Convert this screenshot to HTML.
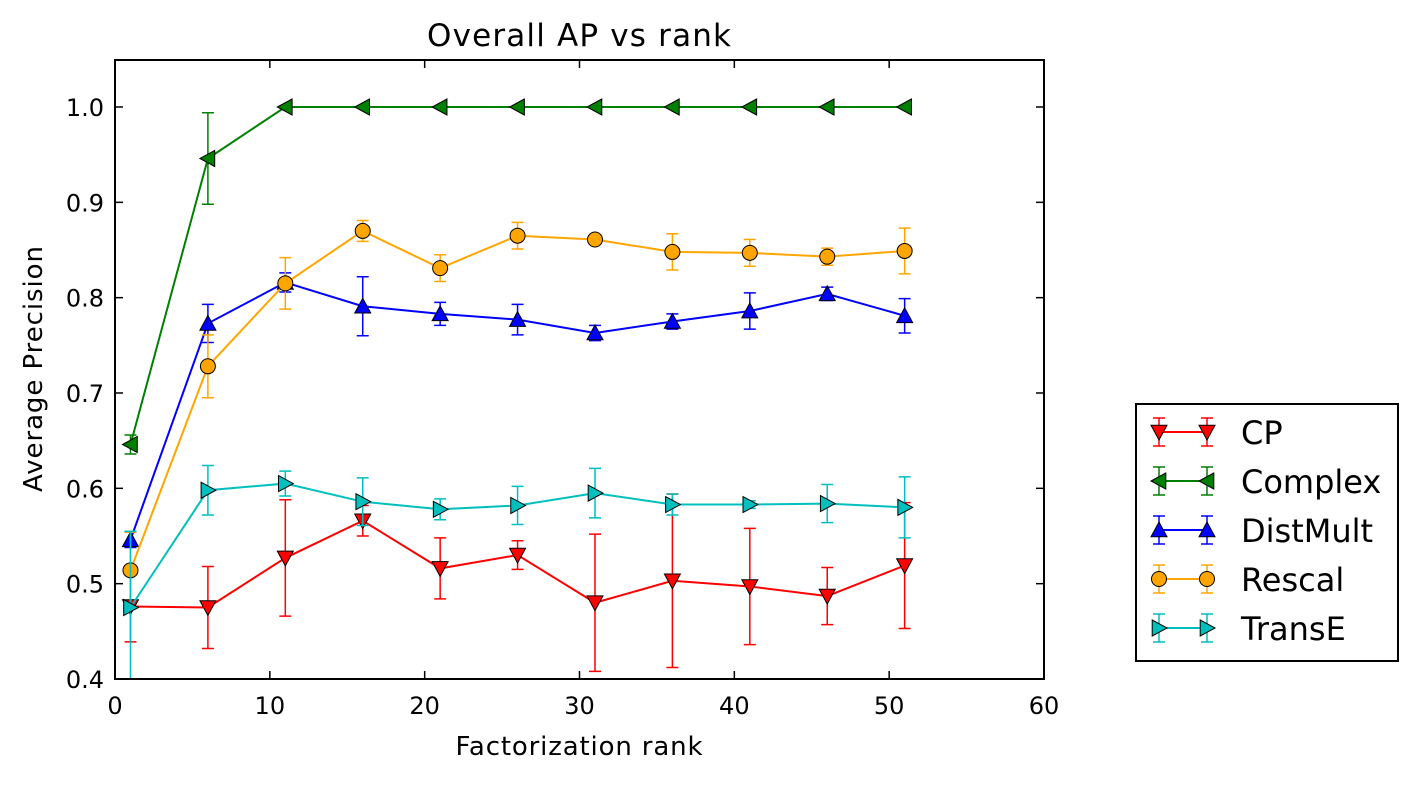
<!DOCTYPE html>
<html><head><meta charset="utf-8"><style>
body{margin:0;background:#fff;}
svg text{font-family:"DejaVu Sans","Liberation Sans",sans-serif;}
</style></head><body>
<svg id="chart" width="1419" height="780" xmlns="http://www.w3.org/2000/svg">
<defs><clipPath id="clip"><rect x="115" y="60" width="929" height="619"/></clipPath></defs>
<rect x="0" y="0" width="1419" height="780" fill="#fff"/>
<text x="579" y="46" font-size="31" text-anchor="middle" textLength="304">Overall AP vs rank</text>
<text x="579" y="755" font-size="26" text-anchor="middle" textLength="247">Factorization rank</text>
<text transform="translate(42,369) rotate(-90)" font-size="26" text-anchor="middle" textLength="246">Average Precision</text>
<g id="ticks"></g>
<g id="series" clip-path="url(#clip)"></g>
<rect x="115" y="60" width="929" height="619" fill="none" stroke="#000" stroke-width="2"/>
<g id="legend"></g>
</svg>
<script>
const xs=[1,6,11,16,21,26,31,36,41,46,51];
const seriesNames=["CP","Complex","DistMult","Rescal","TransE"];
const cpVals=[0.476,0.475,0.527,0.566,0.516,0.530,0.480,0.503,0.497,0.487,0.519];
const cpErr=[0.037,0.043,0.061,0.016,0.032,0.015,0.072,0.091,0.061,0.030,0.066];
const complexVals=[0.646,0.946,1,1,1,1,1,1,1,1,1];
const complexErr=[0.010,0.048,0,0,0,0,0,0,0,0,0];
const distVals=[0.546,0.773,0.816,0.791,0.783,0.777,0.763,0.775,0.786,0.804,0.781];
const distErr=[0.008,0.020,0.010,0.031,0.012,0.016,0.008,0.008,0.019,0.007,0.018];
const rescalVals=[0.514,0.728,0.815,0.870,0.831,0.865,0.861,0.848,0.847,0.843,0.849];
const rescalErr=[0.040,0.033,0.027,0.011,0.014,0.014,0.004,0.019,0.014,0.009,0.024];
const transVals=[0.475,0.598,0.605,0.586,0.578,0.582,0.595,0.583,0.583,0.584,0.580];
const transErr=[0.080,0.026,0.013,0.025,0.011,0.020,0.026,0.011,0.004,0.020,0.032];
const xTicks=[0,10,20,30,40,50,60];
const yTicks=[0.4,0.5,0.6,0.7,0.8,0.9,1.0];

const NS="http://www.w3.org/2000/svg";
const X=v=>115+v*(929/60);
const Y=v=>679-(v-0.4)*(572/0.6);
function mk(tag,attrs,parent){const e=document.createElementNS(NS,tag);for(const k in attrs)e.setAttribute(k,attrs[k]);parent.appendChild(e);return e;}
const tg=document.getElementById('ticks');
xTicks.forEach(t=>{
  const x=X(t);
  let l=mk('line',{x1:x,x2:x,y1:679,y2:671,stroke:'#000','stroke-width':1.5},tg);
  
  
  l=mk('line',{x1:x,x2:x,y1:60,y2:68,stroke:'#000','stroke-width':1.5},tg);
  
  
  const tx=mk('text',{x:x,y:714,'font-size':24,'text-anchor':'middle'},tg);tx.textContent=t;
  
  
});
yTicks.forEach(t=>{
  const y=Y(t);
  let l=mk('line',{x1:115,x2:123,y1:y,y2:y,stroke:'#000','stroke-width':1.5},tg);
  
  
  l=mk('line',{x1:1044,x2:1036,y1:y,y2:y,stroke:'#000','stroke-width':1.5},tg);
  
  
  const tx=mk('text',{x:104,y:y+9,'font-size':24,'text-anchor':'end'},tg);tx.textContent=t.toFixed(1);
  
  
});
function marker(type,cx,cy,color,parent){
  const r=8;let e;
  if(type==='o'){e=mk('circle',{cx:cx,cy:cy,r:7.5},parent);}
  else{
    let p;
    if(type==='v')p=[[cx-r,cy-r*0.85],[cx+r,cy-r*0.85],[cx,cy+r]];
    if(type==='^')p=[[cx-r,cy+r*0.85],[cx+r,cy+r*0.85],[cx,cy-r]];
    if(type==='<')p=[[cx+r*0.85,cy-r],[cx+r*0.85,cy+r],[cx-r,cy]];
    if(type==='>')p=[[cx-r*0.85,cy-r],[cx-r*0.85,cy+r],[cx+r,cy]];
    e=mk('polygon',{points:p.map(q=>q.join(',')).join(' ')},parent);
  }
  e.setAttribute('fill',color);e.setAttribute('stroke','#000');e.setAttribute('stroke-width',1);
  return e;
}
const defs=[
  {name:'cp',vals:cpVals,err:cpErr,color:'#ff0000',m:'v'},
  {name:'complex',vals:complexVals,err:complexErr,color:'#008000',m:'<'},
  {name:'distmult',vals:distVals,err:distErr,color:'#0000ff',m:'^'},
  {name:'rescal',vals:rescalVals,err:rescalErr,color:'#ffa500',m:'o'},
  {name:'transe',vals:transVals,err:transErr,color:'#00bfbf',m:'>'}
];
const sg=document.getElementById('series');
defs.forEach(d=>{
  const g=mk('g',{},sg);
  
  
  xs.forEach((x,i)=>{
    if(d.err[i]<=0)return;
    const px=X(x),y1=Y(d.vals[i]-d.err[i]),y2=Y(d.vals[i]+d.err[i]);
    const eb=mk('path',{d:`M${px},${y1}V${y2}M${px-6},${y1}H${px+6}M${px-6},${y2}H${px+6}`,stroke:d.color,'stroke-width':1.5,fill:'none'},g);
    
    
  });
  const ln=mk('polyline',{points:xs.map((x,i)=>X(x)+','+Y(d.vals[i])).join(' '),fill:'none',stroke:d.color,'stroke-width':2},g);
  
  
  xs.forEach((x,i)=>{
    const mm=marker(d.m,X(x),Y(d.vals[i]),d.color,g);
    
    
  });
});
const lg=document.getElementById('legend');
const box=mk('rect',{x:1136,y:404,width:262,height:257,fill:'#fff',stroke:'#000','stroke-width':2},lg);


defs.forEach((d,i)=>{
  const y=432+i*49;
  const g=mk('g',{},lg);
  
  
  mk('line',{x1:1159,x2:1207,y1:y,y2:y,stroke:d.color,'stroke-width':2},g);
  [1159,1207].forEach(px=>{
    mk('path',{d:`M${px},${y-14}V${y+14}M${px-6},${y-14}H${px+6}M${px-6},${y+14}H${px+6}`,stroke:d.color,'stroke-width':1.5,fill:'none'},g);
    marker(d.m,px,y,d.color,g);
  });
  const t=mk('text',{x:1241,y:y+12,'font-size':32},g);t.textContent=seriesNames[i];
});
</script>
</body></html>
